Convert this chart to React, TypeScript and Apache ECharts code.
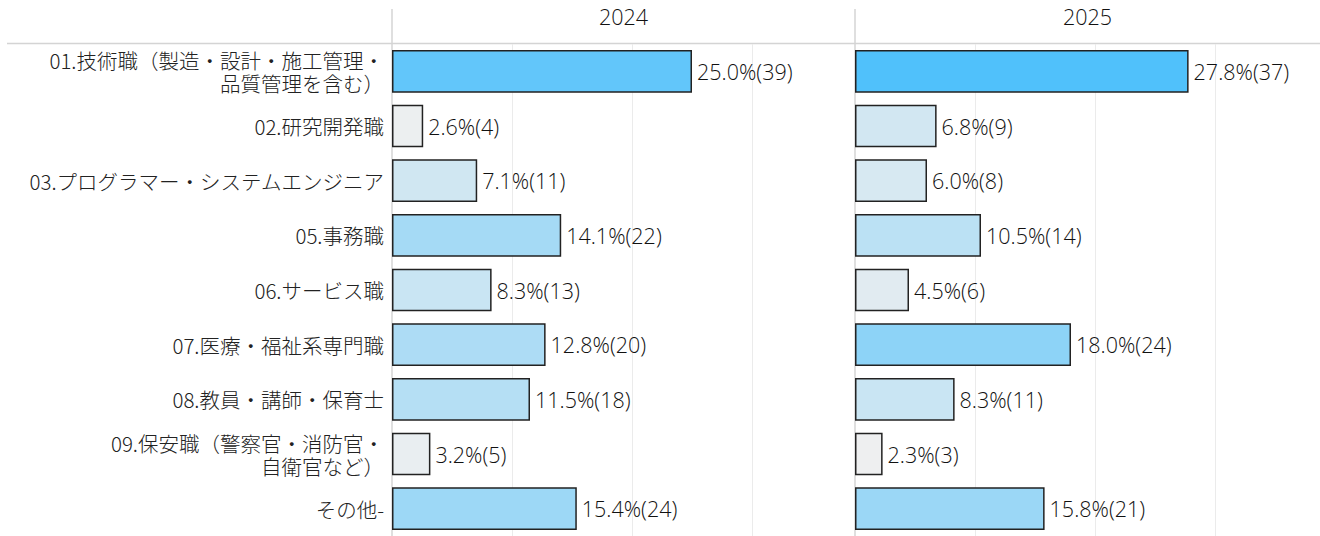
import React, { useEffect, useRef } from "react";
import * as echarts from "echarts";

const categories = [
  "01.技術職（製造・設計・施工管理・\n品質管理を含む）",
  "02.研究開発職",
  "03.プログラマー・システムエンジニア",
  "05.事務職",
  "06.サービス職",
  "07.医療・福祉系専門職",
  "08.教員・講師・保育士",
  "09.保安職（警察官・消防官・\n自衛官など）",
  "その他-",
];
const years = ["2024", "2025"];
const pct2024 = [25.0, 2.6, 7.1, 14.1, 8.3, 12.8, 11.5, 3.2, 15.4];
const count2024 = [39, 4, 11, 22, 13, 20, 18, 5, 24];
const pct2025 = [27.8, 6.8, 6.0, 10.5, 4.5, 18.0, 8.3, 2.3, 15.8];
const count2025 = [37, 9, 8, 14, 6, 24, 11, 3, 21];

const CJK = "'Noto Sans CJK JP', 'Noto Sans', sans-serif";
const LATIN = "'Open Sans', 'Noto Sans', sans-serif";

export default function App() {
  const ref = useRef<HTMLDivElement>(null);
  useEffect(() => {
    if (!ref.current) return;
    const chart = echarts.init(ref.current, undefined, { renderer: "svg" });
    const pcts = [pct2024, pct2025];
    const counts = [count2024, count2025];
    const grids = [
      { left: 392, top: 44, width: 463, height: 495 },
      { left: 855, top: 44, width: 465, height: 495 },
    ];
    const colorFor = (v: number) =>
      echarts.color.lerp(Math.max(0, Math.min(1, (v - 2) / 26)), ["#f0f0f0", "#4fc1fb"]);
    chart.setOption({
      animation: false,
      textStyle: { fontFamily: CJK },
      grid: grids,
      xAxis: grids.map((g, i) => ({
        type: "value",
        gridIndex: i,
        min: 0,
        max: g.width / 12,
        interval: 10,
        position: "top",
        name: years[i],
        nameLocation: "middle",
        nameGap: 17,
        nameTextStyle: { fontSize: 21.5, fontWeight: 300, color: "#111", fontFamily: LATIN },
        axisLabel: { show: false },
        axisTick: { show: false },
        axisLine: { show: false },
        splitLine: {
          show: true,
          showMinLine: false,
          showMaxLine: false,
          lineStyle: { color: "#ebebeb", width: 1 },
        },
      })),
      yAxis: grids.map((g, i) => ({
        type: "category",
        gridIndex: i,
        data: categories,
        inverse: true,
        axisTick: { show: false },
        axisLine: { show: false },
        axisLabel: {
          show: i === 0,
          fontSize: 20.5,
          fontWeight: 300,
          lineHeight: 23,
          color: "#222",
          align: "right",
          margin: 8,
          fontFamily: CJK,
        },
      })),
      series: pcts.map((p, i) => ({
        type: "bar",
        xAxisIndex: i,
        yAxisIndex: i,
        data: p,
        barCategoryGap: "22%",
        itemStyle: {
          color: (params: any) => colorFor(params.value),
          borderColor: "#222",
          borderWidth: 1.5,
        },
        label: {
          show: true,
          position: "right",
          distance: 5,
          fontSize: 21.5,
          fontWeight: 300,
          color: "#111",
          fontFamily: LATIN,
          formatter: (params: any) =>
            `${params.value.toFixed(1)}%(${counts[i][params.dataIndex]})`,
        },
      })),
      graphic: [
        { type: "line", shape: { x1: 7, y1: 43.5, x2: 1320, y2: 43.5 }, style: { stroke: "#d4d4d4", lineWidth: 1.5 } },
        { type: "line", shape: { x1: 392, y1: 9, x2: 392, y2: 536 }, style: { stroke: "#d4d4d4", lineWidth: 1.5 } },
        { type: "line", shape: { x1: 855, y1: 9, x2: 855, y2: 536 }, style: { stroke: "#d4d4d4", lineWidth: 1.5 } },
      ],
    });
    return () => chart.dispose();
  }, []);
  return (
    <div
      ref={ref}
      style={{ position: "absolute", left: 0, top: 0, width: 1320, height: 536 }}
    />
  );
}
